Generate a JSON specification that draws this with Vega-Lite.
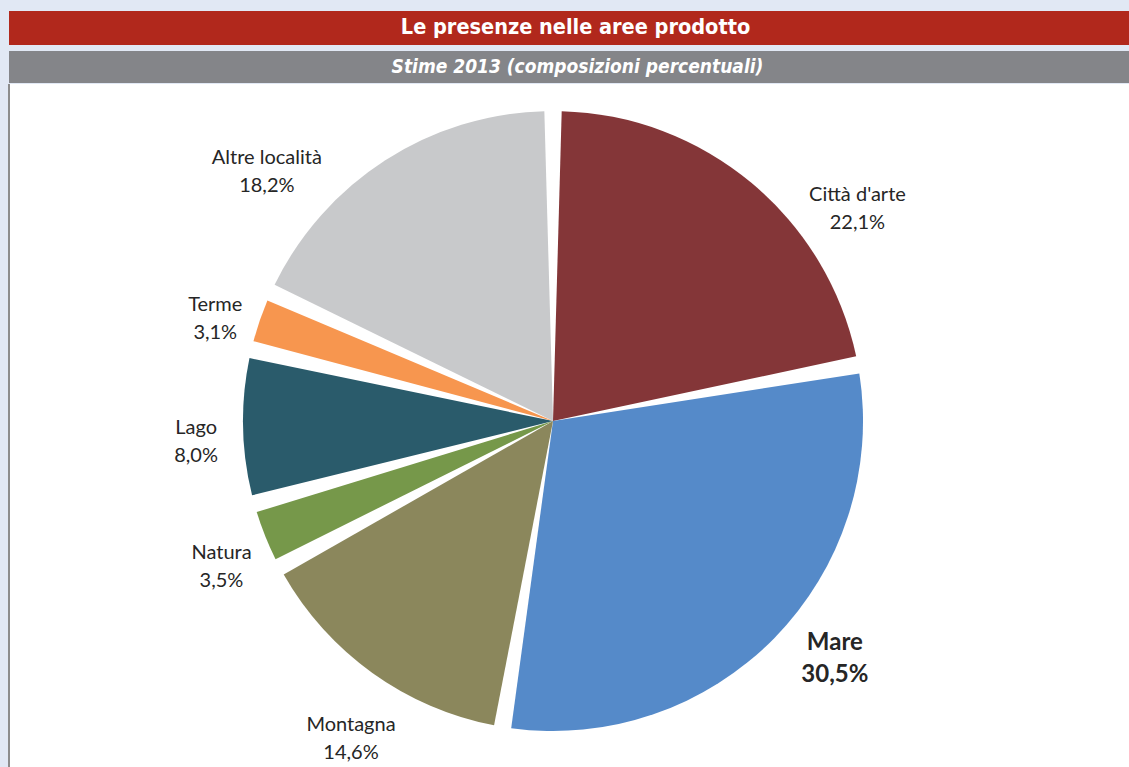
{
  "$schema": "https://vega.github.io/schema/vega-lite/v6.json",
  "background": "#e1e8f4",
  "padding": {"left": 8, "top": 11, "right": 0, "bottom": 0},
  "config": {"view": {"stroke": null}},
  "spacing": 6,
  "vconcat": [
    {
      "width": 1121,
      "height": 34,
      "view": {"fill": "#b1281c", "stroke": null},
      "data": {"values": [{"titolo": "Le presenze nelle aree prodotto"}]},
      "mark": {"type": "text", "font": "DejaVu Sans Condensed, sans-serif", "fontWeight": "bold", "fontSize": 21.5, "color": "#ffffff", "dx": 6},
      "encoding": {"text": {"field": "titolo"}}
    },
    {
      "spacing": 0,
      "vconcat": [
        {
          "width": 1121,
          "height": 32,
          "view": {"fill": "#848589", "stroke": null},
          "data": {"values": [{"sottotitolo": "Stime 2013 (composizioni percentuali)"}]},
          "mark": {"type": "text", "font": "DejaVu Sans Condensed, sans-serif", "fontWeight": "bold", "fontStyle": "italic", "fontSize": 19, "color": "#ffffff", "dx": 8},
          "encoding": {"text": {"field": "sottotitolo"}}
        },
        {
          "width": 1121,
          "height": 684,
          "view": {"fill": "#ffffff", "stroke": null},
          "data": {"values": [
            {"ordine": 1, "area": "Città d'arte", "quota": 22.1, "etichetta": "Città d'arte\n22,1%"},
            {"ordine": 2, "area": "Mare", "quota": 30.5, "etichetta": "Mare\n30,5%"},
            {"ordine": 3, "area": "Montagna", "quota": 14.6, "etichetta": "Montagna\n14,6%"},
            {"ordine": 4, "area": "Natura", "quota": 3.5, "etichetta": "Natura\n3,5%"},
            {"ordine": 5, "area": "Lago", "quota": 8.0, "etichetta": "Lago\n8,0%"},
            {"ordine": 6, "area": "Terme", "quota": 3.1, "etichetta": "Terme\n3,1%"},
            {"ordine": 7, "area": "Altre località", "quota": 18.2, "etichetta": "Altre località\n18,2%"}
          ]},
          "layer": [
            {
              "mark": {"type": "rule", "color": "#8c8c8c", "strokeWidth": 2},
              "encoding": {
                "x": {"datum": 0, "type": "quantitative", "scale": {"domain": [0, 1]}, "axis": null}
              }
            },
            {
              "mark": {"type": "arc", "outerRadius": 310, "padAngle": 0.056},
              "encoding": {
                "theta": {"field": "quota", "type": "quantitative", "stack": true},
                "order": {"field": "ordine", "type": "quantitative"},
                "color": {
                  "field": "area", "type": "nominal", "legend": null,
                  "scale": {
                    "domain": ["Città d'arte", "Mare", "Montagna", "Natura", "Lago", "Terme", "Altre località"],
                    "range": ["#843638", "#558ac9", "#8b875c", "#76984a", "#2a5b6b", "#f7964f", "#c8c9cb"]
                  }
                },
                "x": {"datum": 0.4853, "type": "quantitative", "scale": {"domain": [0, 1]}, "axis": null},
                "y": {"datum": 0.5073, "type": "quantitative", "scale": {"domain": [0, 1]}, "axis": null}
              }
            },
            {
              "mark": {
                "type": "text",
                "radius": 357,
                "font": "Lato",
                "color": "#262626",
                "lineBreak": "\n",
                "fontWeight": {"expr": "datum.area === 'Mare' ? 'bold' : 'normal'"},
                "lineHeight": {"expr": "datum.area === 'Mare' ? 32 : 28"},
                "dx": {"expr": "datum.area === \"Città d'arte\" ? 76 : (datum.area === 'Altre località' ? -93 : (datum.area === 'Mare' ? 27 : (datum.area === 'Montagna' ? 6 : 0)))"},
                "dy": {"expr": "datum.area === \"Città d'arte\" ? 48 : (datum.area === 'Altre località' ? 37 : (datum.area === 'Mare' ? -28 : (datum.area === 'Montagna' ? 14 : 0)))"}
              },
              "encoding": {
                "theta": {"field": "quota", "type": "quantitative", "stack": true},
                "order": {"field": "ordine", "type": "quantitative"},
                "text": {"field": "etichetta", "type": "nominal"},
                "size": {"condition": {"test": "datum.area === 'Mare'", "value": 24}, "value": 20},
                "x": {"datum": 0.4853, "type": "quantitative", "scale": {"domain": [0, 1]}, "axis": null},
                "y": {"datum": 0.5073, "type": "quantitative", "scale": {"domain": [0, 1]}, "axis": null}
              }
            }
          ]
        }
      ]
    }
  ]
}
